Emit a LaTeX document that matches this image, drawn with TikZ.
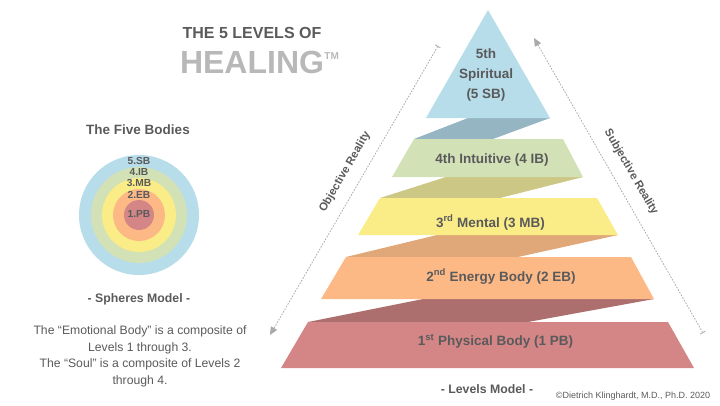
\documentclass[tikz,border=0pt]{standalone}
\usepackage{fontspec}
\setmainfont{Liberation Sans}
\definecolor{ink}{HTML}{5A5A5C}
\definecolor{soft}{HTML}{B8B8B8}
\definecolor{arrowgray}{HTML}{A9A9A9}
\definecolor{sbblue}{HTML}{B6DDE9}
\definecolor{ibgreen}{HTML}{D3E1B6}
\definecolor{mbyellow}{HTML}{FAEC86}
\definecolor{eborange}{HTML}{FDB985}
\definecolor{pbred}{HTML}{D48686}
\definecolor{shblue}{HTML}{95B5C3}
\definecolor{shgreen}{HTML}{CCC784}
\definecolor{shorange}{HTML}{E0A878}
\definecolor{shred}{HTML}{AD6E6E}
\usetikzlibrary{arrows.meta}
\begin{document}
\begin{tikzpicture}[x=1pt,y=-1pt,
  label/.style={text=ink,font=\bfseries\fontsize{13.5}{16}\selectfont,align=center},
  small/.style={text=ink,font=\bfseries\fontsize{12.3}{14}\selectfont,align=center},
  side/.style={text=ink,font=\bfseries\fontsize{11.3}{13}\selectfont},
  plain/.style={text=ink,font=\fontsize{12.2}{16.6}\selectfont,align=center},
  sphere/.style={text=ink,font=\bfseries\fontsize{10.2}{11}\selectfont},
  reality/.style={draw=arrowgray,line width=0.8pt,dash pattern=on 1.6pt off 1.4pt,
    {Bar[width=6pt]}-{Triangle[length=8pt,width=7pt,fill=arrowgray]}}]
  \useasboundingbox (0,0) rectangle (720,405);

  % Titre
  \node[label,font=\bfseries\fontsize{16}{18}\selectfont] (title) at (252,33) {THE 5 LEVELS OF};
  \node[text=soft,font=\bfseries\fontsize{32}{36}\selectfont,inner sep=0pt] (healing) at (252,62) {HEALING};
  \node[text=soft,font=\bfseries\fontsize{10}{10}\selectfont,inner sep=0pt,anchor=west] (tm) at (healing.east) [yshift=6pt] {TM};

  % Sphères
  \coordinate (C) at (139,215);
  \node[label] (bodies) at (138,130) {The Five Bodies};
  \fill[sbblue] (C) circle(60);
  \fill[ibgreen] (C) circle(48);
  \fill[mbyellow] (C) circle(37);
  \fill[eborange] (C) circle(26);
  \fill[pbred] (C) circle(15);
  \node[sphere] (s5) at (139,161) {5.SB};
  \node[sphere] (s4) at (139,172) {4.IB};
  \node[sphere] (s3) at (139,183) {3.MB};
  \node[sphere] (s2) at (139,195) {2.EB};
  \node[sphere] (s1) at (139,214) {1.PB};
  \node[small] (spheres) at (139,299) {- Spheres Model -};
  \node[plain] (composite) at (140,356.5) {The “Emotional Body” is a composite of\\Levels 1 through 3.\\The “Soul” is a composite of Levels 2\\through 4.};

  % Ombres
  \fill[shblue] (468,118) -- (550,118) -- (493,139) -- (414,139) -- cycle;
  \fill[shgreen] (446,177) -- (583,177) -- (500,198) -- (380,198) -- cycle;
  \fill[shorange] (437,235) -- (618,235) -- (518,257) -- (346,257) -- cycle;
  \fill[shred] (423,299) -- (654,299) -- (528,322) -- (308,322) -- cycle;

  % Niveaux
  \fill[sbblue] (488,10) -- (550,118) -- (426,118) -- cycle;
  \fill[ibgreen] (414,139) -- (563,139) -- (583,177) -- (392,177) -- cycle;
  \fill[mbyellow] (380,198) -- (597,198) -- (618,235) -- (358,235) -- cycle;
  \fill[eborange] (346,257) -- (631,257) -- (654,299) -- (321,299) -- cycle;
  \fill[pbred] (308,322) -- (668,322) -- (694,368) -- (281,368) -- cycle;

  \node[label,font=\bfseries\fontsize{13.5}{20}\selectfont] (l5) at (486,75) {5th\\Spiritual\\(5 SB)};
  \node[label] (l4) at (492,160.5) {4th Intuitive (4 IB)};
  \node[label] (l3) at (490.5,222.5) {3\textsuperscript{rd} Mental (3 MB)};
  \node[label] (l2) at (501,276.5) {2\textsuperscript{nd} Energy Body (2 EB)};
  \node[label] (l1) at (495.5,341.5) {1\textsuperscript{st} Physical Body (1 PB)};
  \node[small] (levels) at (487,389) {- Levels Model -};
  \node[text=ink,font=\fontsize{9}{10}\selectfont] (copy) at (633,396) {©Dietrich Klinghardt, M.D., Ph.D. 2020};

  % Flèches
  \coordinate (A) at (438,46);
  \coordinate (B) at (270,335);
  \coordinate (D) at (703,333);
  \coordinate (E) at (534,38);
  \draw[reality] (A) -- (B);
  \draw[reality] (D) -- (E);
  \node[side,rotate=60] (objective) at (345,172) {Objective Reality};
  \node[side,rotate=-60] (subjective) at (631,172) {Subjective Reality};
\end{tikzpicture}
\end{document}
